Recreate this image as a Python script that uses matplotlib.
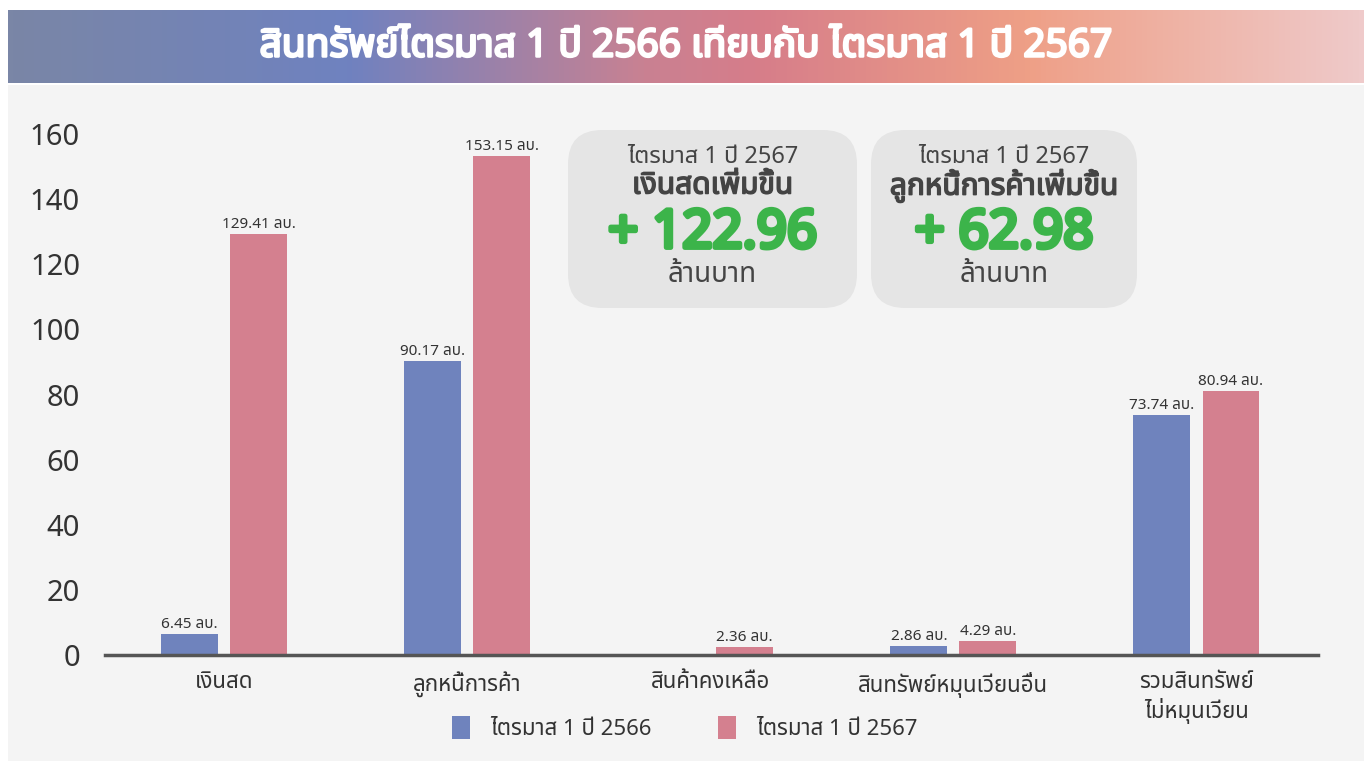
import numpy as np
import matplotlib
matplotlib.use("Agg")
import matplotlib.pyplot as plt
import matplotlib.patheffects as pe
from matplotlib import font_manager
from matplotlib.ft2font import FT2Font
from matplotlib.colors import LinearSegmentedColormap
from matplotlib.patches import FancyBboxPatch, Rectangle

categories = ["เงินสด", "ลูกหนี้การค้า", "สินค้าคงเหลือ", "สินทรัพย์หมุนเวียนอื่น", "รวมสินทรัพย์\nไม่หมุนเวียน"]
q1_2566 = [6.45, 90.17, np.nan, 2.86, 73.74]
q1_2567 = [129.41, 153.15, 2.36, 4.29, 80.94]
series_names = ["ไตรมาส 1 ปี 2566", "ไตรมาส 1 ปี 2567"]
title = "สินทรัพย์ไตรมาส 1 ปี 2566 เทียบกับ ไตรมาส 1 ปี 2567"
boxes = [("ไตรมาส 1 ปี 2567", "เงินสดเพิ่มขึ้น", "+ 122.96", "ล้านบาท"),
         ("ไตรมาส 1 ปี 2567", "ลูกหนี้การค้าเพิ่มขึ้น", "+ 62.98", "ล้านบาท")]


# find some font that has thai glyphs
def find_thai():
    found = []
    for f in font_manager.fontManager.ttflist:
        try:
            ft = FT2Font(f.fname)
            if ft.get_char_index(0x0E01):
                found.append(f.name)
        except Exception:
            pass
    for pref in ["Noto Sans Thai", "Noto Sans Thai UI", "Sarabun", "Kanit", "Prompt", "Loma", "Garuda"]:
        if pref in found:
            return pref
    return found[0] if found else None


thai = find_thai()
fams = ([thai] if thai else []) + ["DejaVu Sans"]
plt.rcParams["font.family"] = fams


def fake_bold(w, col):
    return [pe.withStroke(linewidth=w, foreground=col)]


W, H = 1364, 761
fig = plt.figure(figsize=(W / 100, H / 100), dpi=100)
fig.patch.set_facecolor("white")

# page background
fig.patches.append(Rectangle((8 / W, 0), 1, 1 - 85 / H, transform=fig.transFigure,
                             facecolor="#f4f4f4", edgecolor="none", zorder=-5))

# gradient banner
bax = fig.add_axes([8 / W, 1 - 83 / H, 1 - 8 / W, 73 / H])
cmap = LinearSegmentedColormap.from_list("banner", [(0, "#7a86a6"), (0.25, "#6f82c0"), (0.47, "#c98192"),
                                                    (0.55, "#d67d8a"), (0.75, "#ee9f86"), (1, "#efcaca")])
bax.imshow(np.linspace(0, 1, 256)[None, :], aspect="auto", cmap=cmap, extent=[0, 1, 0, 1])
bax.set_axis_off()
bax.text(0.5, 0.5, title, color="white", fontsize=28, ha="center", va="center",
         path_effects=fake_bold(1.8, "white"))

ax = fig.add_axes([105 / W, 1 - 655 / H, (1318 - 105) / W, (655 - 134) / H])
ax.set_facecolor("none")
x = np.arange(len(categories))
bw = 0.234
off = 0.142
b1 = ax.bar(x - off, q1_2566, bw, color="#6f83bd", label=series_names[0])
b2 = ax.bar(x + off, q1_2567, bw, color="#d4808f", label=series_names[1])

for bars, vals in [(b1, q1_2566), (b2, q1_2567)]:
    for r, v in zip(bars, vals):
        if np.isnan(v):
            continue
        ax.text(r.get_x() + r.get_width() / 2, v + 0.6, f"{v:.2f} ลบ.", ha="center", va="bottom",
                fontsize=11, color="#333333")

ax.set_xlim(-0.49, 4.5)
ax.set_ylim(0, 160)
ax.set_yticks(range(0, 161, 20))
ax.tick_params(axis="y", length=0, pad=18, labelsize=21, labelcolor="#333333")
ax.tick_params(axis="x", length=0, pad=12, labelsize=16, labelcolor="#333333")
ax.set_xticks(x)
ax.set_xticklabels(categories, linespacing=1.25)
for s in ["top", "right", "left"]:
    ax.spines[s].set_visible(False)
ax.spines["bottom"].set_color("#555555")
ax.spines["bottom"].set_linewidth(2.5)

ax.legend(loc="center", bbox_to_anchor=(0.478, -0.14), ncol=2, frameon=False, fontsize=16,
          handlelength=0.8, handleheight=1.2, handletextpad=0.9, columnspacing=3.0, labelcolor="#333333")

# summary boxes
for (x0, x1), (l1, l2, num, l4) in zip([(568, 857), (871, 1137)], boxes):
    fig.patches.append(FancyBboxPatch((x0 / W, 1 - 308 / H), (x1 - x0) / W, (308 - 130) / H,
                                      boxstyle="round,pad=0,rounding_size=0.025", transform=fig.transFigure,
                                      facecolor="#e5e5e5", edgecolor="none", mutation_aspect=W / H, zorder=2))
    cx = (x0 + x1) / 2 / W
    fig.text(cx, 1 - 157 / H, l1, ha="center", va="center", fontsize=17, color="#444444", zorder=3)
    fig.text(cx, 1 - 186 / H, l2, ha="center", va="center", fontsize=21.5, color="#444444", zorder=3,
             path_effects=fake_bold(1.1, "#444444"))
    fig.text(cx, 1 - 234 / H, num, ha="center", va="center", fontsize=38, color="#3cb44a", zorder=3,
             path_effects=fake_bold(3.5, "#3cb44a"))
    fig.text(cx, 1 - 275 / H, l4, ha="center", va="center", fontsize=20, color="#444444", zorder=3)

fig.savefig("out.png", dpi=100)
